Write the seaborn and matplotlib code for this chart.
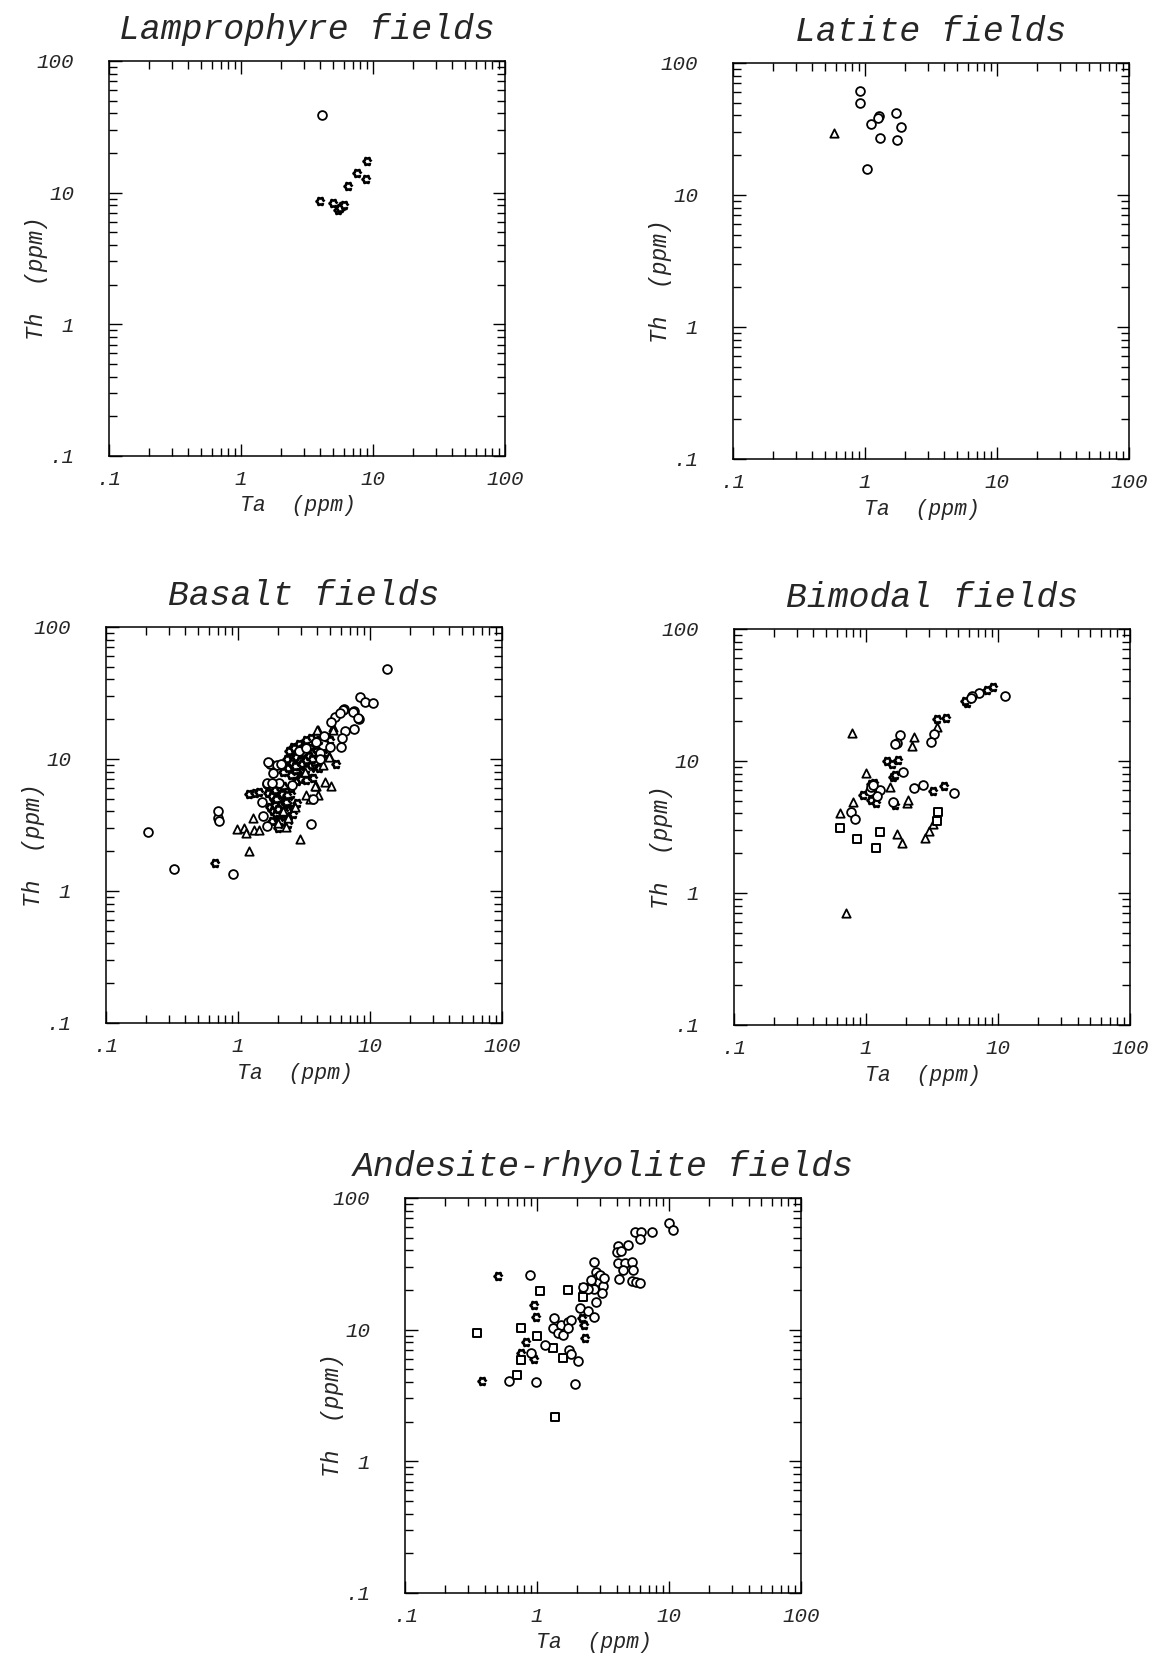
# -*- coding: utf-8 -*-
"""
Th vs Ta (ppm) log-log scatter fields for five rock suites
"""

# import libraries
import numpy as np
import pandas as pd
import matplotlib.pyplot as plt
from matplotlib.ticker import LogLocator, NullFormatter
import seaborn as sns

# set theme
sns.set_style("white")
plt.rcParams['font.family'] = ['Liberation Mono', 'DejaVu Sans Mono']

# axis ticks
ticks = [0.1, 1, 10, 100]
tick_labels = ['.1', '1', '10', '100']

# ---- Lamprophyre ----
lamp_circle_ta = [4.1]
lamp_circle_th = [39]
lamp_gear_ta = [9.0, 7.5, 8.8, 6.5, 4.0, 5.0, 5.8, 5.4, 5.6, 6.0]
lamp_gear_th = [17.4, 14.2, 12.6, 11.3, 8.6, 8.4, 7.9, 7.4, 7.7, 8.0]

# ---- Latite ----
lat_circle_ta = [0.91, 0.92, 1.28, 1.26, 1.72, 1.11, 1.87, 1.30, 1.76, 1.03]
lat_circle_th = [61, 49.5, 39.7, 38.5, 42, 34.3, 32.6, 27.2, 26, 15.8]
lat_tri_ta = [0.58]
lat_tri_th = [29.5]

# ---- Basalt ----
bas_circle_ta = [13.5, 8.4, 9.2, 10.6, 6.4, 7.5, 8.3, 5.4, 5.1, 6.5, 7.5, 6.1,
                 6.0, 5.0, 4.2, 4.2, 3.6, 0.91, 0.33, 0.21, 0.71, 0.71, 0.72,
                 1.65, 1.56, 1.51, 1.65, 2.06, 1.75, 1.99, 1.85, 2.58, 3.7, 1.7,
                 2.1, 1.65, 1.8, 4.5, 3.9, 2.9, 3.3, 6.2, 5.9, 7.4, 8.1]
bas_circle_th = [48, 29.7, 27.2, 26.7, 23.8, 22.9, 20, 20.9, 19.2, 16.4, 16.8,
                 14.5, 12.4, 12.4, 11, 10, 3.2, 1.34, 1.46, 2.78, 3.55, 4.0, 3.4,
                 3.08, 3.7, 4.7, 6.5, 6.6, 9.1, 9.0, 7.8, 6.4, 5.0, 9.5, 9.2,
                 6.6, 6.6, 15, 13.5, 11.5, 12.2, 23.5, 22.3, 22.7, 20.5]
bas_tri_ta = [4.06, 5.2, 4.9, 5.1, 4.56, 3.9, 4.06, 2.95, 1.21, 0.98, 1.11,
              1.16, 1.32, 1.45, 1.29, 2.02, 2.3, 2.4, 4.0, 5.2, 3.8, 4.9, 3.5,
              3.3, 4.4, 3.2, 2.7, 2.2]
bas_tri_th = [16.6, 17.4, 10.6, 6.25, 6.7, 6.2, 5.3, 2.46, 2.0, 2.95, 2.98,
              2.77, 2.87, 2.9, 3.6, 3.26, 3.07, 3.56, 16.6, 16.6, 6.2, 10.3, 5.0,
              5.3, 9.0, 8.0, 4.3, 4.0]
bas_gear_ta = [2.3, 2.5, 2.7, 2.9, 3.1, 3.3, 3.5, 3.7, 3.9, 4.2,
               2.4, 2.6, 2.8, 3.0, 3.2, 3.4, 3.6, 3.8, 4.0, 4.4,
               2.2, 2.5, 2.7, 3.0, 3.2, 3.5, 3.7, 4.1,
               2.6, 2.9, 3.1, 3.4, 3.6, 3.9, 2.8, 3.0, 3.3, 2.5, 3.6, 3.2,
               2.35, 2.55, 2.75, 2.95, 3.15, 3.35, 3.55, 3.75, 2.45, 2.65,
               2.85, 3.05, 3.25, 3.45, 3.65, 2.9, 3.1, 2.7, 3.3, 3.0,
               1.7, 1.8, 1.9, 2.0, 2.1, 2.2, 2.3, 2.4, 2.5, 2.6,
               1.75, 1.85, 1.95, 2.05, 2.15, 2.25, 2.35, 2.45,
               1.8, 2.0, 2.2, 2.4, 1.9, 2.1, 2.3, 2.5, 2.6, 2.8, 2.0, 2.2,
               1.9, 2.0, 2.1, 2.2, 2.3, 2.05, 2.15, 2.25, 1.95, 2.35,
               1.21, 1.35, 1.45, 0.67, 5.5, 3.6, 4.1, 4.7, 3.3, 5.0]
bas_gear_th = [9.5, 10.5, 11.2, 12.0, 10.0, 11.5, 12.5, 10.8, 11.8, 9.8,
               8.5, 9.0, 9.8, 10.8, 8.6, 9.2, 9.6, 8.8, 10.2, 11.0,
               8.0, 7.6, 8.2, 7.4, 7.8, 8.0, 7.2, 8.6,
               12.4, 13.0, 12.2, 13.4, 11.0, 12.8, 6.8, 7.0, 6.9, 9.8, 9.0, 10.4,
               10.0, 9.3, 10.4, 9.6, 11.0, 10.1, 11.1, 9.4, 11.4, 12.2,
               8.8, 9.2, 9.9, 10.6, 10.0, 11.6, 8.2, 8.9, 8.4, 11.8,
               5.5, 5.2, 4.8, 5.6, 4.6, 5.0, 4.4, 4.9, 5.4, 4.2,
               4.3, 4.0, 3.8, 4.5, 3.6, 3.9, 4.1, 3.7,
               3.4, 3.5, 3.3, 3.2, 5.8, 5.9, 5.7, 6.0, 3.8, 4.6, 3.0, 6.2,
               4.5, 4.2, 5.2, 3.9, 4.7, 3.4, 5.4, 4.0, 5.0, 5.3,
               5.4, 5.5, 5.6, 1.62, 9.2, 14.5, 14.0, 14.6, 13.8, 14.0]

# ---- Bimodal ----
bim_circle_ta = [11.2, 7.2, 6.4, 6.2, 3.3, 3.1, 1.81, 1.71, 1.66, 1.90, 2.29,
                 2.69, 4.64, 1.28, 1.21, 1.07, 1.1, 1.61, 0.77, 0.83, 1.12]
bim_circle_th = [31.1, 32.6, 31, 29.8, 15.9, 13.9, 15.7, 13.6, 13.4, 8.2, 6.2,
                 6.6, 5.7, 6.0, 5.4, 5.9, 6.4, 4.9, 4.1, 3.6, 6.6]
bim_gear_ta = [9.2, 8.3, 5.8, 5.6, 3.47, 4.04, 1.44, 1.56, 1.76, 1.61, 1.65,
               3.2, 3.92, 0.955, 1.1, 1.2, 1.66, 1.1, 1.15]
bim_gear_th = [36, 34.5, 27.7, 28.5, 20.8, 21, 9.9, 9.5, 10.2, 7.6, 7.8,
               5.9, 6.5, 5.5, 5.1, 4.8, 4.6, 6.7, 6.8]
bim_tri_ta = [3.43, 0.78, 2.32, 2.24, 1.0, 1.52, 2.03, 2.09, 0.79, 0.63, 1.71,
              1.88, 2.8, 3.0, 3.2, 0.70]
bim_tri_th = [18, 16.2, 15.1, 12.9, 8.1, 6.3, 4.8, 5.1, 4.9, 4.06, 2.8,
              2.38, 2.6, 2.97, 3.3, 0.71]
bim_sq_ta = [0.64, 0.86, 1.28, 1.19, 3.43, 3.53]
bim_sq_th = [3.1, 2.55, 2.87, 2.2, 3.53, 4.13]

# ---- Andesite-rhyolite ----
and_circle_ta = [10.0, 10.8, 7.4, 5.5, 6.1, 6.0, 4.1, 4.0, 4.3, 4.9, 4.1, 4.6,
                 5.2, 5.3, 4.5, 4.2, 5.2, 5.6, 6.0, 2.69, 2.8, 2.88, 2.97, 3.14,
                 2.72, 3.09, 2.8, 2.54, 2.42, 2.22, 2.13, 2.42, 2.72, 1.35,
                 1.31, 1.52, 1.71, 1.81, 1.44, 1.56, 1.71, 0.885, 1.14, 1.74,
                 1.81, 2.03, 0.61, 0.98, 1.95, 0.90, 3.0, 3.2]
and_circle_th = [65, 57, 54.6, 54.6, 54.6, 49, 43, 39, 39.5, 44, 31.8, 31.8,
                 32.7, 28.3, 28.3, 24.2, 23.4, 22.8, 22.5, 32.7, 27.5, 25.2,
                 23.1, 21.5, 20.3, 18.8, 16.3, 23.8, 20.3, 21.2, 14.7, 13.8,
                 12.5, 12.2, 10.2, 10.8, 11.5, 11.8, 9.4, 9.1, 10.2, 26, 7.6,
                 7.0, 6.5, 5.8, 4.1, 4.0, 3.86, 6.6, 26, 24.5]
and_gear_ta = [2.18, 2.26, 2.29, 0.98, 0.955, 0.51, 0.82, 0.955, 0.38, 0.75]
and_gear_th = [12.3, 10.8, 8.7, 12.4, 15.4, 25.4, 8.1, 6.0, 4.04, 6.6]
and_sq_ta = [2.25, 2.22, 1.71, 1.05, 0.35, 0.757, 1.0, 1.33, 0.757, 1.56,
             0.71, 1.37]
and_sq_th = [20.6, 17.8, 20, 19.6, 9.4, 10.2, 8.9, 7.2, 5.9, 6.1, 4.5, 2.15]


def frame(groups):
    parts = [pd.DataFrame({'Ta': ta, 'Th': th, 'kind': kind})
             for kind, ta, th in groups]
    return pd.concat(parts, ignore_index=True)


panels = [
    ('Lamprophyre fields', [0.0945, 0.7245, 0.3435, 0.2387],
     frame([('gear', lamp_gear_ta, lamp_gear_th),
            ('circle', lamp_circle_ta, lamp_circle_th)])),
    ('Latite fields', [0.6357, 0.7227, 0.3435, 0.2393],
     frame([('circle', lat_circle_ta, lat_circle_th),
            ('triangle', lat_tri_ta, lat_tri_th)])),
    ('Basalt fields', [0.0919, 0.3819, 0.3435, 0.2393],
     frame([('gear', bas_gear_ta, bas_gear_th),
            ('triangle', bas_tri_ta, bas_tri_th),
            ('circle', bas_circle_ta, bas_circle_th)])),
    ('Bimodal fields', [0.6366, 0.3807, 0.3435, 0.2393],
     frame([('gear', bim_gear_ta, bim_gear_th),
            ('triangle', bim_tri_ta, bim_tri_th),
            ('square', bim_sq_ta, bim_sq_th),
            ('circle', bim_circle_ta, bim_circle_th)])),
    ('Andesite-rhyolite fields', [0.3513, 0.0375, 0.3435, 0.2387],
     frame([('gear', and_gear_ta, and_gear_th),
            ('square', and_sq_ta, and_sq_th),
            ('circle', and_circle_ta, and_circle_th)])),
]

# small gear-like marker
ang = np.arange(12) * np.pi / 6
rad = np.where(np.arange(12) % 2 == 0, 1.0, 0.72)
gear = np.column_stack([rad * np.cos(ang), rad * np.sin(ang)])
marker_map = {'circle': 'o', 'gear': gear, 'triangle': '^', 'square': 's'}
size_map = {'circle': 40, 'gear': 34, 'triangle': 36, 'square': 30}
width_map = {'circle': 1.3, 'gear': 1.9, 'triangle': 1.3, 'square': 1.4}

# create figure
fig = plt.figure(figsize=(11.53, 16.55), dpi=100)

for title, rect, df in panels:
    ax = fig.add_axes(rect)
    ax.set(xscale='log', yscale='log', xlim=(0.1, 100), ylim=(0.1, 100))
    for kind in df['kind'].unique():
        sns.scatterplot(
            data=df[df['kind'] == kind], x='Ta', y='Th',
            marker=marker_map[kind], s=size_map[kind],
            facecolor='white', edgecolor='black',
            linewidth=width_map[kind], legend=False, ax=ax
            )
    ax.set_xticks(ticks, tick_labels, fontsize=15, fontstyle='italic')
    ax.set_yticks(ticks, tick_labels, fontsize=15, fontstyle='italic')
    for axis in (ax.xaxis, ax.yaxis):
        axis.set_minor_locator(LogLocator(base=10, subs=np.arange(2, 10)))
        axis.set_minor_formatter(NullFormatter())
    ax.set_xlim(0.1, 100)
    ax.set_ylim(0.1, 100)
    ax.tick_params(which='both', direction='in', top=True, right=True,
                   left=True, bottom=True, color='black')
    ax.tick_params(which='major', length=9, width=1)
    ax.tick_params(which='minor', length=6, width=1)
    ax.tick_params(axis='y', which='major', pad=25)
    ax.tick_params(axis='x', which='major', pad=10)
    for sp in ax.spines.values():
        sp.set_color('black')
        sp.set_linewidth(1.1)
    ax.set_xlabel('Ta  (ppm)', fontsize=15.5, fontstyle='italic')
    ax.set_ylabel('Th  (ppm)', fontsize=16.5, fontstyle='italic')
    ax.xaxis.set_label_coords(0.477, -0.1)
    ax.yaxis.set_label_coords(-0.155, 0.45)
    ax.set_title(title, fontsize=25, fontstyle='italic', pad=16)

plt.savefig('out.png', dpi=100)
